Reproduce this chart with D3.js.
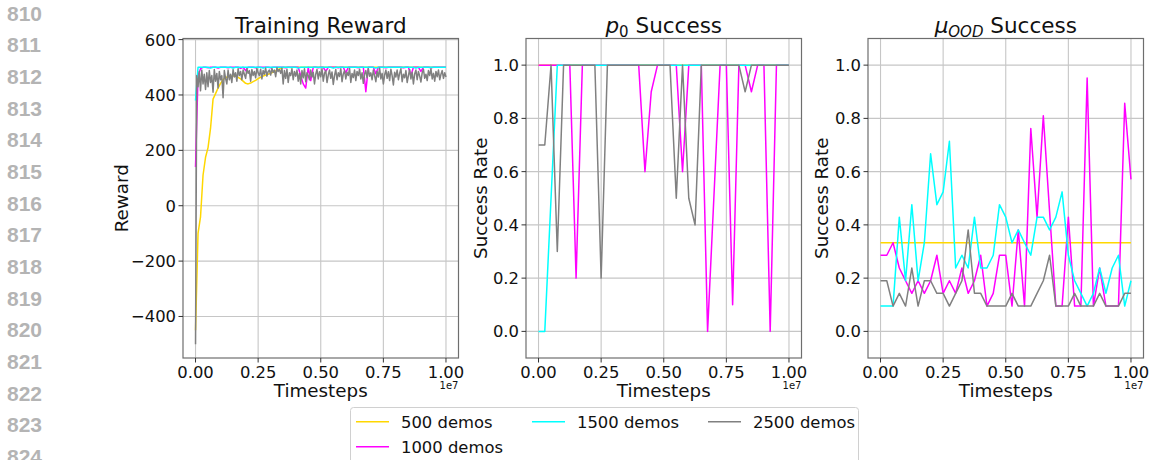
<!DOCTYPE html>
<html>
<head>
<meta charset="utf-8">
<script src="https://cdn.jsdelivr.net/npm/d3@7"></script>
<style>
  body { margin: 0; background: #fff; }
  svg { display: block; font-family: 'DejaVu Sans', sans-serif; }
  .grid line { stroke: #c6c6c6; stroke-width: 1.1; }
  .frame { fill: none; stroke: #6e6e6e; stroke-width: 1.2; }
  .tick-mark { stroke: #333; stroke-width: 1; }
  .tick-label { font-size: 16.4px; fill: #111; }
  .axis-label { font-size: 18.3px; fill: #111; }
  .title { font-size: 21.5px; fill: #111; }
  .offset { font-size: 10px; fill: #111; }
  .series { fill: none; stroke-width: 1.5; stroke-linejoin: round; }
  .line-no { font-family: 'Liberation Sans', sans-serif; font-weight: bold; font-size: 21px; fill: #b4b4b4; }
  .legend-text { font-size: 16.4px; fill: #111; }
</style>
</head>
<body>
<svg id="chart" width="1150" height="460"></svg>
<script>
/* ==========================================================================
   Three panels: training reward, p0 success, mu_OOD success
   x values are in units of 1e7 timesteps (matplotlib offset label "1e7")
   ========================================================================== */

var seriesNames = ['500 demos', '1000 demos', '1500 demos', '2500 demos'];
var seriesColors = ['#ffd700', '#ff00ff', '#00ffff', '#808080'];

var lineNumbers = d3.range(810, 825);

// reward logged every 1e5 steps (2500 demos run every 5e4),
// success evaluated every 2.5e5 steps
var rewardSteps = d3.range(0, 101).map(function (i) { return i / 100; });
var rewardStepsFine = d3.range(0, 201).map(function (i) { return i / 200; });
var evalSteps = d3.range(0, 41).map(function (i) { return i / 40; });

var xTicks = [0, 0.25, 0.5, 0.75, 1.0];
var rewardTicks = [-400, -200, 0, 200, 400, 600];
var successTicks = [0, 0.2, 0.4, 0.6, 0.8, 1.0];

var reward500 = [
  -450, -100, -40, 110, 175, 210, 280, 385, 405, 425,
  442, 455, 463, 466, 468, 469, 468, 464, 458, 450,
  442, 440, 443, 448, 453, 459, 464, 468, 472, 475,
  478, 483, 487, 492, 496, 499, 500, 500, 499, 500,
  500, 500, 500, 500, 500, 500, 500, 500, 500, 500,
  500, 500, 500, 500, 500, 500, 500, 500, 500, 500,
  500, 500, 500, 500, 500, 500, 500, 500, 500, 500,
  500, 500, 500, 500, 500, 500, 500, 500, 500, 500,
  500, 500, 500, 500, 500, 500, 500, 500, 500, 500,
  500, 500, 500, 500, 500, 500, 500, 500, 500, 500,
  500
];
var reward1000 = [
  140, 470, 495, 500, 500, 498, 500, 500, 500, 497,
  500, 500, 500, 498, 500, 500, 500, 500, 496, 500,
  488, 500, 500, 500, 498, 500, 500, 500, 500, 500,
  498, 500, 500, 500, 500, 500, 498, 500, 500, 500,
  500, 500, 470, 440, 425, 500, 452, 500, 500, 498,
  500, 500, 485, 500, 500, 500, 500, 498, 500, 500,
  480, 500, 500, 500, 500, 498, 500, 500, 412, 500,
  500, 500, 477, 500, 500, 500, 498, 500, 500, 500,
  500, 500, 500, 498, 500, 500, 470, 500, 500, 500,
  485, 500, 500, 500, 498, 500, 500, 500, 500, 500,
  500
];
var reward1500 = [
  380, 500, 500, 500, 500, 500, 497, 500, 500, 500,
  500, 500, 500, 500, 500, 497, 500, 500, 500, 500,
  500, 500, 500, 500, 500, 500, 500, 497, 500, 500,
  500, 500, 500, 500, 500, 500, 500, 500, 500, 500,
  500, 497, 500, 500, 500, 500, 500, 500, 500, 500,
  500, 500, 500, 500, 500, 497, 500, 500, 500, 500,
  500, 500, 500, 500, 500, 500, 500, 500, 500, 500,
  500, 500, 497, 500, 500, 500, 500, 500, 500, 500,
  500, 500, 500, 500, 500, 500, 500, 500, 497, 500,
  500, 500, 500, 500, 500, 500, 500, 500, 500, 500,
  500
];
var reward2500 = [
  -500, 470, 430, 485, 415, 490, 440, 475, 420, 480,
  430, 488, 445, 470, 410, 492, 450, 478, 425, 485,
  455, 470, 390, 488, 460, 440, 490, 455, 475, 445,
  492, 465, 480, 450, 495, 470, 485, 455, 490, 475,
  460, 495, 478, 488, 450, 492, 470, 485, 462, 496,
  480, 470, 493, 458, 488, 475, 497, 468, 485, 490,
  472, 496, 482, 490, 466, 498, 485, 492, 478, 497,
  440, 488, 460, 493, 445, 480, 470, 495, 455, 485,
  468, 490, 450, 478, 440, 488, 462, 495, 448, 480,
  470, 455, 490, 465, 482, 440, 475, 492, 458, 484,
  466, 495, 450, 478, 488, 445, 472, 490, 460, 483,
  438, 470, 492, 455, 480, 467, 495, 448, 476, 488,
  458, 482, 470, 496, 445, 478, 463, 490, 452, 485,
  470, 493, 458, 480, 442, 475, 488, 462, 495, 468,
  480, 455, 490, 470, 448, 485, 465, 497, 458, 478,
  440, 472, 490, 460, 484, 452, 493, 470, 436, 482,
  465, 490, 455, 478, 495, 448, 475, 462, 488, 445,
  470, 492, 458, 482, 440, 476, 490, 455, 485, 468,
  447, 480, 493, 460, 475, 452, 488, 470, 495, 458,
  478, 450, 485, 466, 490, 455, 475, 488, 460, 480,
  465
];

var p0Success500 = [
  1, 1, 1, 1, 1, 1, 1, 1, 1, 1,
  1, 1, 1, 1, 1, 1, 1, 1, 1, 1,
  1, 1, 1, 1, 1, 1, 1, 1, 1, 1,
  1, 1, 1, 1, 1, 1, 1, 1, 1, 1,
  1
];
var p0Success1000 = [
  1, 1, 1, 1, 1, 1, 0.2, 1, 1, 1,
  1, 1, 1, 1, 1, 1, 1, 0.6, 0.9, 1,
  1, 1, 1, 0.6, 1, 1, 1, 0.0, 0.5, 1,
  1, 0.1, 1, 1, 0.9, 1, 1, 0.0, 1, 1,
  1
];
var p0Success1500 = [
  0, 0, 0.5, 1, 1, 1, 1, 1, 1, 1,
  1, 1, 1, 1, 1, 1, 1, 1, 1, 1,
  1, 1, 1, 1, 1, 1, 1, 1, 1, 1,
  1, 1, 1, 1, 1, 1, 1, 1, 1, 1,
  1
];
var p0Success2500 = [
  0.7, 0.7, 1, 0.3, 1, 1, 1, 1, 1, 1,
  0.2, 1, 1, 1, 1, 1, 1, 1, 1, 1,
  1, 1, 0.5, 1, 0.5, 0.4, 1, 1, 1, 1,
  1, 1, 1, 0.9, 1, 1, 1, 1, 1, 1,
  1
];

var oodSuccess500 = [
  0.333, 0.333, 0.333, 0.333, 0.333, 0.333, 0.333, 0.333, 0.333, 0.333,
  0.333, 0.333, 0.333, 0.333, 0.333, 0.333, 0.333, 0.333, 0.333, 0.333,
  0.333, 0.333, 0.333, 0.333, 0.333, 0.333, 0.333, 0.333, 0.333, 0.333,
  0.333, 0.333, 0.333, 0.333, 0.333, 0.333, 0.333, 0.333, 0.333, 0.333,
  0.333
];
var oodSuccess1000 = [
  0.286, 0.286, 0.333, 0.238, 0.19, 0.143, 0.19, 0.143, 0.19, 0.286,
  0.143, 0.19, 0.143, 0.238, 0.143, 0.19, 0.286, 0.095, 0.143, 0.286,
  0.286, 0.095, 0.381, 0.095, 0.762, 0.429, 0.81, 0.45, 0.095, 0.095,
  0.429, 0.095, 0.095, 0.952, 0.095, 0.238, 0.095, 0.095, 0.095, 0.857,
  0.571
];
var oodSuccess1500 = [
  0.095, 0.095, 0.095, 0.429, 0.19, 0.476, 0.19, 0.333, 0.667, 0.476,
  0.524, 0.714, 0.238, 0.286, 0.238, 0.429, 0.238, 0.238, 0.286, 0.476,
  0.429, 0.333, 0.381, 0.333, 0.286, 0.429, 0.429, 0.381, 0.429, 0.524,
  0.286, 0.19, 0.143, 0.095, 0.143, 0.238, 0.143, 0.238, 0.286, 0.095,
  0.19
];
var oodSuccess2500 = [
  0.19, 0.19, 0.095, 0.143, 0.095, 0.238, 0.095, 0.19, 0.19, 0.143,
  0.143, 0.095, 0.143, 0.19, 0.381, 0.143, 0.143, 0.095, 0.095, 0.095,
  0.095, 0.143, 0.095, 0.095, 0.095, 0.143, 0.19, 0.286, 0.095, 0.095,
  0.095, 0.143, 0.095, 0.095, 0.095, 0.143, 0.095, 0.095, 0.095, 0.143,
  0.143
];

(function () {
  var svg = d3.select('#chart');
  var top = 38.5, bottom = 358, width = 275.5;

  // faint line numbers down the left margin
  svg.selectAll('.line-no')
    .data(lineNumbers)
    .enter()
    .append('text')
    .attr('class', 'line-no')
    .attr('x', 7)
    .attr('y', function (d, i) { return 20.7 + i * 31.67; })
    .text(function (d) { return d; });

  var minus = function (v) { return v < 0 ? '\u2212' + Math.abs(v) : String(v); };
  var oneDec = function (v) { return v.toFixed(1); };

  var panels = [
    { left: 183, ylabelX: 128, ylabel: 'Reward', title: 'reward',
      yDomain: [-550, 604], yTicks: rewardTicks, yFmt: minus,
      series: [
        { xs: rewardSteps, ys: reward500 },
        { xs: rewardSteps, ys: reward1000 },
        { xs: rewardSteps, ys: reward1500 },
        { xs: rewardStepsFine, ys: reward2500 }
      ] },
    { left: 526, ylabelX: 487, ylabel: 'Success Rate', title: 'p0',
      yDomain: [-0.1, 1.1], yTicks: successTicks, yFmt: oneDec,
      series: [
        { xs: evalSteps, ys: p0Success500 },
        { xs: evalSteps, ys: p0Success1000 },
        { xs: evalSteps, ys: p0Success1500 },
        { xs: evalSteps, ys: p0Success2500 }
      ] },
    { left: 868, ylabelX: 828, ylabel: 'Success Rate', title: 'ood',
      yDomain: [-0.1, 1.1], yTicks: successTicks, yFmt: oneDec,
      series: [
        { xs: evalSteps, ys: oodSuccess500 },
        { xs: evalSteps, ys: oodSuccess1000 },
        { xs: evalSteps, ys: oodSuccess1500 },
        { xs: evalSteps, ys: oodSuccess2500 }
      ] }
  ];

  panels.forEach(function (p, pi) {
    var x = d3.scaleLinear().domain([-0.05, 1.05]).range([p.left, p.left + width]);
    var y = d3.scaleLinear().domain(p.yDomain).range([bottom, top]);
    var g = svg.append('g');

    var clipId = 'clip' + pi;
    g.append('clipPath').attr('id', clipId)
      .append('rect')
      .attr('x', p.left).attr('y', top)
      .attr('width', width).attr('height', bottom - top);

    // grid
    var grid = g.append('g').attr('class', 'grid');
    grid.selectAll('.gx').data(xTicks).enter().append('line')
      .attr('x1', x).attr('x2', x).attr('y1', top).attr('y2', bottom);
    grid.selectAll('.gy').data(p.yTicks).enter().append('line')
      .attr('y1', y).attr('y2', y).attr('x1', p.left).attr('x2', p.left + width);

    // series, in legend order so grey ends up on top
    g.append('g').attr('clip-path', 'url(#' + clipId + ')')
      .selectAll('path')
      .data(p.series)
      .enter()
      .append('path')
      .attr('class', 'series')
      .attr('stroke', function (d, i) { return seriesColors[i]; })
      .attr('d', function (s) {
        return d3.line()
          .x(function (d, i) { return x(s.xs[i]); })
          .y(function (d) { return y(d); })(s.ys);
      });

    g.append('rect').attr('class', 'frame')
      .attr('x', p.left).attr('y', top)
      .attr('width', width).attr('height', bottom - top);

    // ticks and tick labels
    g.selectAll('.xt').data(xTicks).enter().append('line')
      .attr('class', 'tick-mark')
      .attr('x1', x).attr('x2', x).attr('y1', bottom).attr('y2', bottom + 4.5);
    g.selectAll('.xl').data(xTicks).enter().append('text')
      .attr('class', 'tick-label')
      .attr('x', x).attr('y', bottom + 19.5)
      .attr('text-anchor', 'middle')
      .text(function (d) { return d.toFixed(2); });

    g.selectAll('.yt').data(p.yTicks).enter().append('line')
      .attr('class', 'tick-mark')
      .attr('x1', p.left - 4.5).attr('x2', p.left).attr('y1', y).attr('y2', y);
    g.selectAll('.yl').data(p.yTicks).enter().append('text')
      .attr('class', 'tick-label')
      .attr('x', p.left - 7).attr('y', function (d) { return y(d) + 6; })
      .attr('text-anchor', 'end')
      .text(p.yFmt);

    g.append('text').attr('class', 'offset')
      .attr('x', p.left + width).attr('y', bottom + 31)
      .attr('text-anchor', 'end')
      .text('1e7');

    g.append('text').attr('class', 'axis-label')
      .attr('x', p.left + width / 2).attr('y', bottom + 39)
      .attr('text-anchor', 'middle')
      .text('Timesteps');

    g.append('text').attr('class', 'axis-label')
      .attr('transform', 'translate(' + p.ylabelX + ',' + ((top + bottom) / 2) + ') rotate(-90)')
      .attr('text-anchor', 'middle')
      .text(p.ylabel);

    var t = g.append('text').attr('class', 'title')
      .attr('x', p.left + width / 2).attr('y', 33)
      .attr('text-anchor', 'middle');
    if (p.title === 'reward') {
      t.text('Training Reward');
    } else if (p.title === 'p0') {
      t.append('tspan').attr('font-style', 'italic').text('p');
      t.append('tspan').attr('dy', 4).attr('font-size', 15).text('0');
      t.append('tspan').attr('dy', -4).text(' Success');
    } else {
      t.append('tspan').attr('font-style', 'italic').text('\u03bc');
      t.append('tspan').attr('dy', 4).attr('font-size', 15).attr('font-style', 'italic').text('OOD');
      t.append('tspan').attr('dy', -4).text(' Success');
    }
  });

  // legend: three columns, filled column-wise like matplotlib
  var legend = svg.append('g');
  legend.append('rect')
    .attr('x', 350.5).attr('y', 407.5)
    .attr('width', 508).attr('height', 62)
    .attr('rx', 3)
    .attr('fill', '#fff')
    .attr('stroke', '#d0d0d0');
  var slots = [[356, 421.7], [356, 446.7], [532, 421.7], [708, 421.7]];
  seriesNames.forEach(function (name, i) {
    var s = slots[i];
    legend.append('line')
      .attr('x1', s[0]).attr('x2', s[0] + 33)
      .attr('y1', s[1]).attr('y2', s[1])
      .attr('stroke', seriesColors[i])
      .attr('stroke-width', 1.5);
    legend.append('text').attr('class', 'legend-text')
      .attr('x', s[0] + 45).attr('y', s[1] + 5.8)
      .text(name);
  });
})();
</script>
</body>
</html>
